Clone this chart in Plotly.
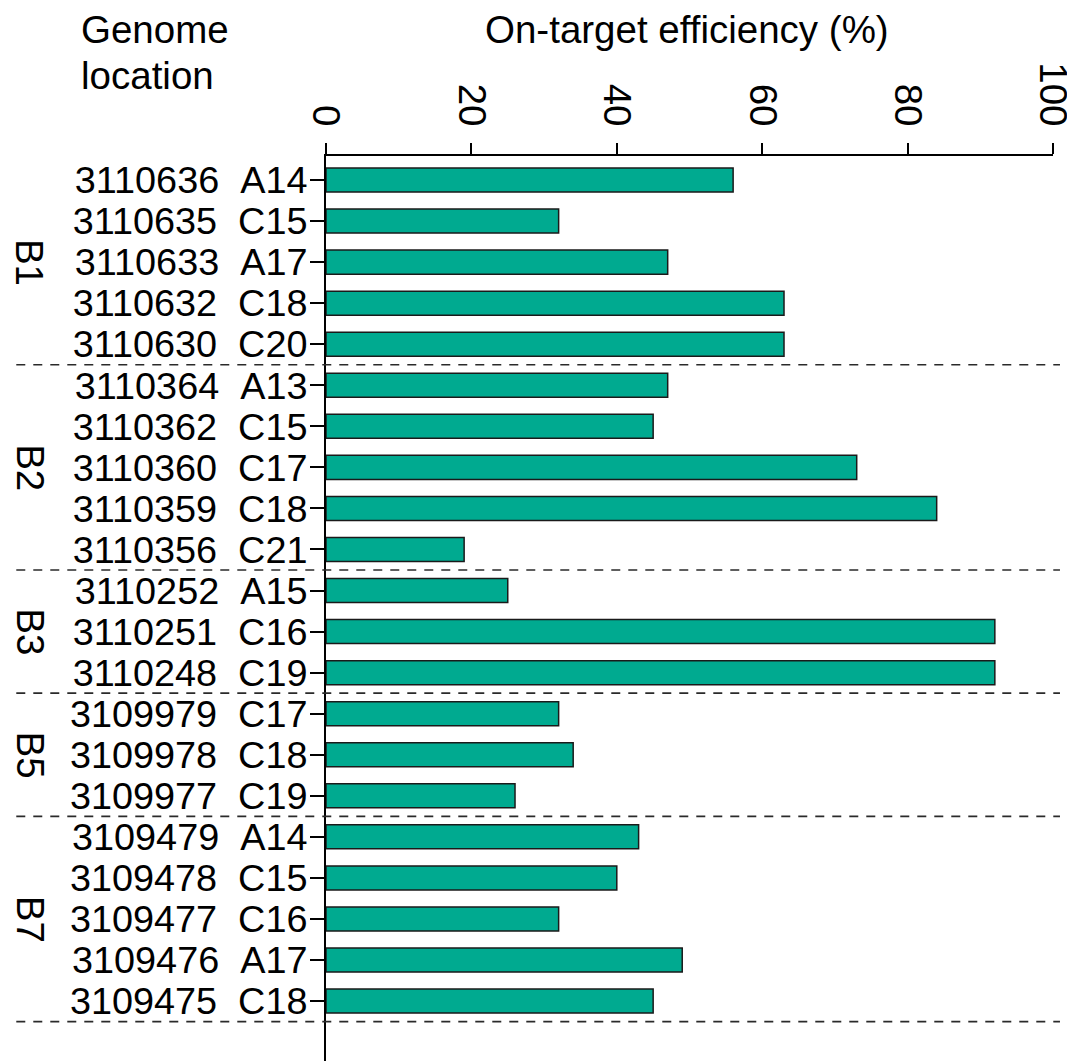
import plotly.graph_objects as go

# ---- data ----
labels = [
    "3110636  A14", "3110635  C15", "3110633  A17", "3110632  C18", "3110630  C20",
    "3110364  A13", "3110362  C15", "3110360  C17", "3110359  C18", "3110356  C21",
    "3110252  A15", "3110251  C16", "3110248  C19",
    "3109979  C17", "3109978  C18", "3109977  C19",
    "3109479  A14", "3109478  C15", "3109477  C16", "3109476  A17", "3109475  C18",
]
efficiency = [56, 32, 47, 63, 63,
              47, 45, 73, 84, 19,
              25, 92, 92,
              32, 34, 26,
              43, 40, 32, 49, 45]
groups = ["B1", "B2", "B3", "B5", "B7"]
group_sizes = [5, 5, 3, 3, 5]
x_ticks = [0, 20, 40, 60, 80, 100]
x_title = "On-target efficiency (%)"
y_title_lines = ["Genome", "location"]

# ---- style ----
FONT = "Liberation Sans, Arial, sans-serif"
FS = 38.5
FS_Y = 37.8
BAR_COLOR = "#00AA90"
OFF = 8  # page body margin offset
W, H = 1075 - OFF, 1061 - OFF
ML, MR, MT, MB = 326 - OFF, 19, 156 - OFF, 0
Y_MIN, Y_MAX = -0.585, 21.46

disp = [l.replace(" ", "\u00a0") for l in labels]

fig = go.Figure(go.Bar(
    x=efficiency, y=disp, orientation="h", width=0.585,
    marker=dict(color=BAR_COLOR, line=dict(color="#1a1a1a", width=1.5)),
))

plot_w = W - ML - MR
plot_h = H - MT - MB

def ypaper(v):
    return 1 - (v - Y_MIN) / (Y_MAX - Y_MIN)

def xp(page_px):
    return (page_px - OFF - ML) / plot_w

def yp(page_px):
    return 1 - (page_px - OFF - MT) / plot_h

shapes = []
annotations = []
start = 0
for g, n in zip(groups, group_sizes):
    end = start + n
    yb = end - 0.5
    shapes.append(dict(type="line", xref="paper", yref="paper",
                       x0=xp(15), x1=xp(1063),
                       y0=ypaper(yb), y1=ypaper(yb),
                       line=dict(color="#2a2a2a", width=1.7, dash="9px,8px")))
    mid = (start + end - 1) / 2
    annotations.append(dict(text=g, xref="paper", yref="paper",
                            x=xp(29), y=ypaper(mid), textangle=90,
                            showarrow=False, xanchor="center", yanchor="middle",
                            borderpad=0,
                            font=dict(family=FONT, size=FS, color="black")))
    start = end

for i, line in enumerate(y_title_lines):
    annotations.append(dict(text=line, xref="paper", yref="paper",
                            x=xp(78), y=yp(6 + 46 * i),
                            xanchor="left", yanchor="top", align="left", showarrow=False,
                            font=dict(family=FONT, size=FS, color="black")))
annotations.append(dict(text=x_title, xref="paper", yref="paper",
                        x=xp(688), y=yp(6),
                        xanchor="center", yanchor="top", showarrow=False,
                        font=dict(family=FONT, size=FS, color="black")))

fig.update_layout(
    width=W, height=H,
    margin=dict(l=ML, r=MR, t=MT, b=MB, pad=0),
    plot_bgcolor="white", paper_bgcolor="white",
    showlegend=False,
    shapes=shapes, annotations=annotations,
    font=dict(family=FONT, size=FS, color="black"),
    xaxis=dict(side="top", range=[0, 100], tickmode="array", tickvals=x_ticks,
               tickangle=90, ticklabeloverflow="allow", ticklabelstandoff=3,
               ticks="outside", ticklen=11, tickwidth=2, tickcolor="black",
               showline=True, linewidth=2, linecolor="black",
               showgrid=False, zeroline=False,
               tickfont=dict(family=FONT, size=FS, color="black")),
    yaxis=dict(type="category", range=[Y_MAX, Y_MIN],
               tickmode="array", tickvals=disp, ticktext=disp,
               ticks="outside", ticklen=14, tickwidth=2, tickcolor="black",
               showline=True, linewidth=2, linecolor="black",
               showgrid=False, zeroline=False, ticklabelstandoff=-5,
               tickfont=dict(family=FONT, size=FS_Y, color="black")),
)

fig.write_html("out.html")
